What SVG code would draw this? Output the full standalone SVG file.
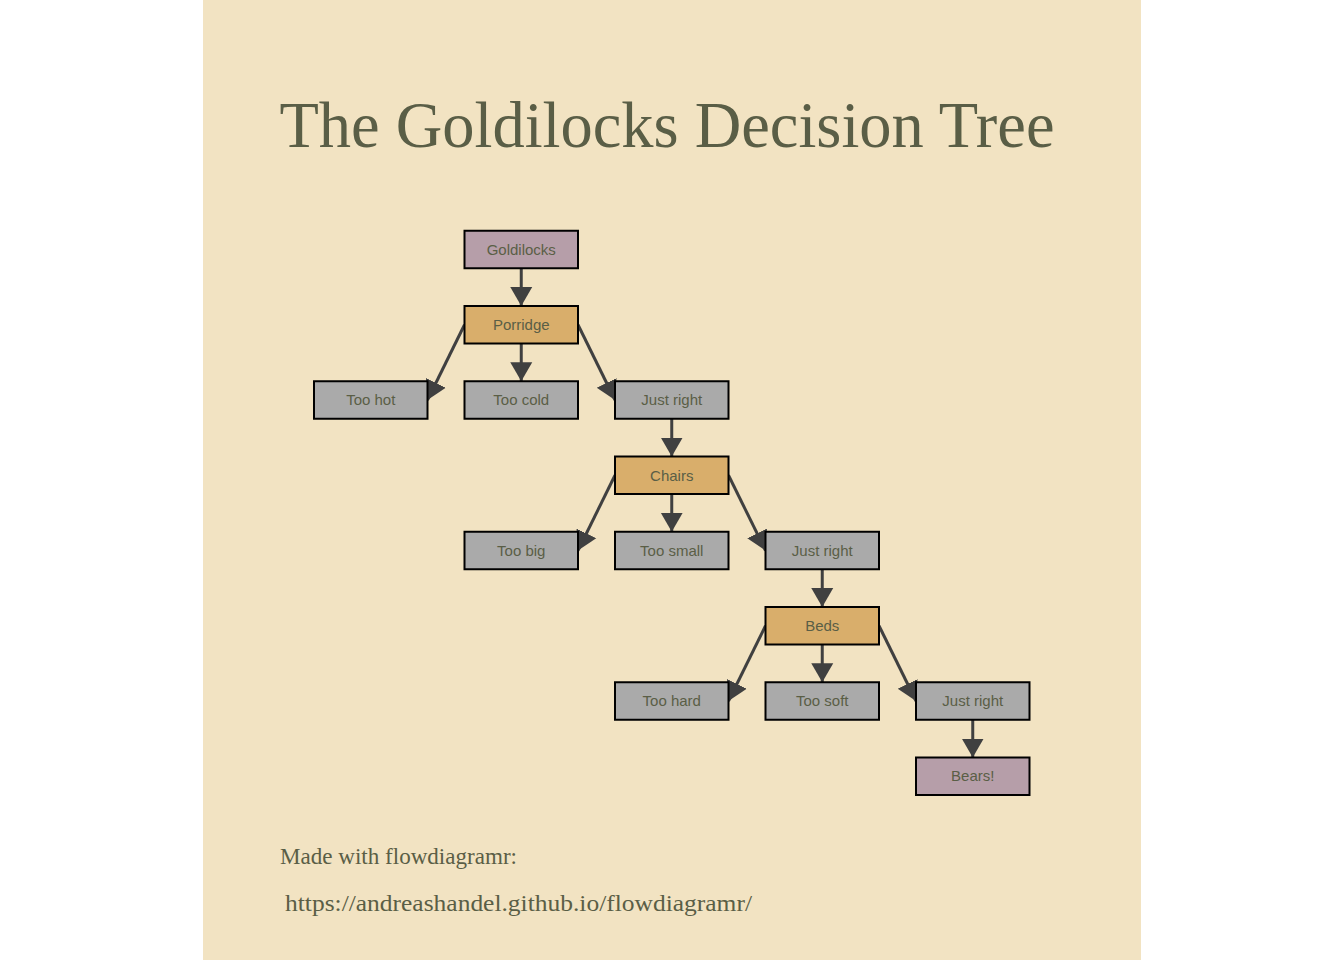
<svg xmlns="http://www.w3.org/2000/svg" width="1344" height="960" viewBox="0 0 1344 960">
<defs>
<style>
.n rect{stroke:#000;stroke-width:2}
.start rect{fill:#b69ea9}
.dec rect{fill:#d9ae6b}
.opt rect{fill:#aaaaaa}
.n text{font-family:"Liberation Sans",Arial,sans-serif;font-size:15px;fill:#5a5e46;text-anchor:middle}
.e{stroke:#404040;stroke-width:3;fill:none;marker-end:url(#ah)}
.title{font-family:"Liberation Serif","DejaVu Serif",serif;fill:#5a5e46}
</style>
<marker id="ah" markerUnits="userSpaceOnUse" markerWidth="20" markerHeight="24" refX="19" refY="11" orient="auto" viewBox="0 0 20 22">
<path d="M0,0 L19,11 L0,22 Z" fill="#404040"/>
</marker>
</defs>
<rect x="0" y="0" width="1344" height="960" fill="#ffffff"/>
<rect x="203" y="0" width="938" height="960" fill="#f2e3c2"/>
<text class="title" x="667" y="147" font-size="66" text-anchor="middle" textLength="775" lengthAdjust="spacingAndGlyphs">The Goldilocks Decision Tree</text>
<g id="connectors">
<line class="e" x1="521.25" y1="268.25" x2="521.25" y2="306"/>
<line class="e" x1="521.25" y1="343.5" x2="521.25" y2="381.25"/>
<line class="e" x1="464.5" y1="324.75" x2="427.5" y2="400"/>
<line class="e" x1="578" y1="324.75" x2="615" y2="400"/>
<line class="e" x1="671.75" y1="418.75" x2="671.75" y2="456.5"/>
<line class="e" x1="671.75" y1="494" x2="671.75" y2="531.75"/>
<line class="e" x1="615" y1="475.25" x2="578" y2="550.5"/>
<line class="e" x1="728.5" y1="475.25" x2="765.5" y2="550.5"/>
<line class="e" x1="822.25" y1="569.25" x2="822.25" y2="607"/>
<line class="e" x1="822.25" y1="644.5" x2="822.25" y2="682.25"/>
<line class="e" x1="765.5" y1="625.75" x2="728.5" y2="701"/>
<line class="e" x1="879" y1="625.75" x2="916" y2="701"/>
<line class="e" x1="972.75" y1="719.75" x2="972.75" y2="757.5"/>
</g>
<g id="goldilocks" class="n start"><rect x="464.5" y="230.75" width="113.5" height="37.5"/><text x="521.25" y="255">Goldilocks</text></g>
<g id="porridge" class="n dec"><rect x="464.5" y="306" width="113.5" height="37.5"/><text x="521.25" y="330">Porridge</text></g>
<g id="too-hot" class="n opt"><rect x="314" y="381.25" width="113.5" height="37.5"/><text x="370.75" y="405">Too hot</text></g>
<g id="too-cold" class="n opt"><rect x="464.5" y="381.25" width="113.5" height="37.5"/><text x="521.25" y="405">Too cold</text></g>
<g id="just-right-1" class="n opt"><rect x="615" y="381.25" width="113.5" height="37.5"/><text x="671.75" y="405">Just right</text></g>
<g id="chairs" class="n dec"><rect x="615" y="456.5" width="113.5" height="37.5"/><text x="671.75" y="481">Chairs</text></g>
<g id="too-big" class="n opt"><rect x="464.5" y="531.75" width="113.5" height="37.5"/><text x="521.25" y="556">Too big</text></g>
<g id="too-small" class="n opt"><rect x="615" y="531.75" width="113.5" height="37.5"/><text x="671.75" y="556">Too small</text></g>
<g id="just-right-2" class="n opt"><rect x="765.5" y="531.75" width="113.5" height="37.5"/><text x="822.25" y="556">Just right</text></g>
<g id="beds" class="n dec"><rect x="765.5" y="607" width="113.5" height="37.5"/><text x="822.25" y="631">Beds</text></g>
<g id="too-hard" class="n opt"><rect x="615" y="682.25" width="113.5" height="37.5"/><text x="671.75" y="706">Too hard</text></g>
<g id="too-soft" class="n opt"><rect x="765.5" y="682.25" width="113.5" height="37.5"/><text x="822.25" y="706">Too soft</text></g>
<g id="just-right-3" class="n opt"><rect x="916" y="682.25" width="113.5" height="37.5"/><text x="972.75" y="706">Just right</text></g>
<g id="bears" class="n start"><rect x="916" y="757.5" width="113.5" height="37.5"/><text x="972.75" y="781">Bears!</text></g>
<text class="title" x="280" y="864" font-size="24" textLength="237" lengthAdjust="spacingAndGlyphs">Made with flowdiagramr:</text>
<text class="title" x="285" y="911" font-size="24" textLength="467" lengthAdjust="spacingAndGlyphs">https://andreashandel.github.io/flowdiagramr/</text>
</svg>
